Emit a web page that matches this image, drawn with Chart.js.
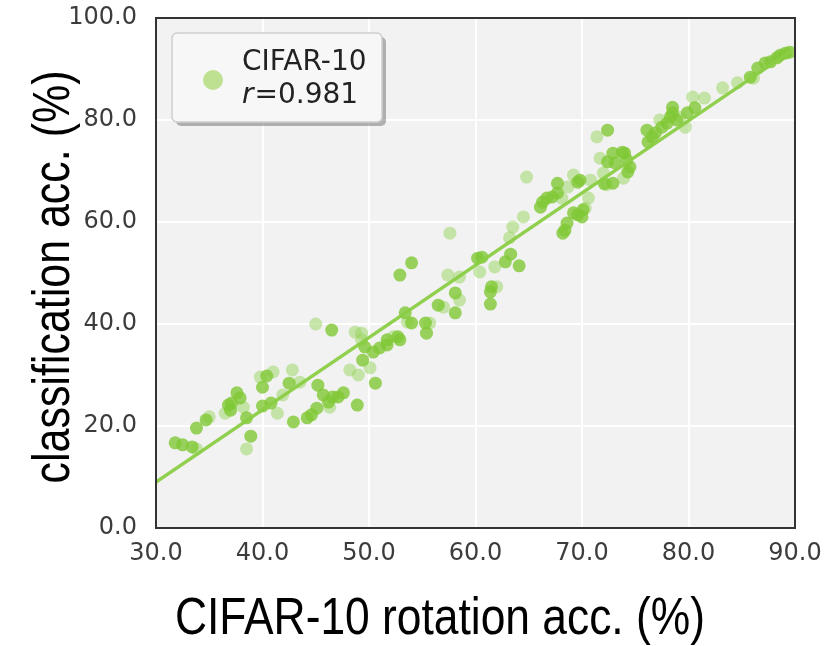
<!DOCTYPE html>
<html>
<head>
<meta charset="utf-8">
<script src="https://cdn.jsdelivr.net/npm/chart.js@4"></script>
<style>
  html, body { margin: 0; padding: 0; background: #fff; }
  #wrap { width: 827px; height: 646px; }
</style>
</head>
<body>
<div id="wrap"><canvas id="rotCls"></canvas></div>
<script>
// rotation acc. (x) vs classification acc. (y)
const darkX = [31.8, 32.5, 33.4, 33.8, 34.7, 36.8, 37.1, 37.0, 37.6, 37.9, 38.5, 38.9, 40.4, 40.0, 40.0, 40.8,
  42.5, 42.9, 44.2, 44.6, 45.1, 45.2, 45.7, 46.2, 46.6, 47.1, 47.6, 48.9, 46.5, 49.4, 49.6, 51.7, 52.7, 50.6,
  52.9, 54.0, 58.1, 58.1, 56.5, 55.4, 55.3, 53.4, 54.0, 52.9, 51.7, 51.0, 50.4,
  60.2, 60.6, 62.8, 63.3, 64.1, 61.4, 61.5, 61.4, 66.1, 66.3, 66.7, 67.2, 67.7, 67.7, 69.6, 69.8,
  68.6, 68.2, 68.4, 69.2, 69.6, 70.0, 72.4, 72.4, 72.1, 72.9, 72.9, 73.1, 73.8, 74.0, 74.2, 74.3, 74.5, 70.1,
  76.1, 76.2, 76.6, 76.9, 77.5, 78.0, 78.3, 78.5, 78.5, 78.9, 79.9, 80.6, 85.8, 86.5, 87.2, 87.7, 88.3, 88.6, 89.1, 89.5];
const darkY = [16.7, 16.3, 15.9, 19.6, 21.2, 24.1, 24.5, 23.1, 26.5, 25.5, 21.6, 18.0, 29.8, 27.6, 23.9, 24.5,
  28.4, 20.8, 21.6, 22.2, 23.5, 28.0, 26.1, 24.7, 25.7, 25.7, 26.5, 24.1, 38.8, 32.9, 35.5, 35.9, 37.5, 28.4,
  49.6, 52.0, 46.1, 42.2, 43.7, 38.2, 40.2, 42.2, 40.2, 36.9, 36.9, 35.3, 34.5,
  52.9, 53.1, 52.2, 53.7, 51.4, 46.3, 47.3, 43.9, 62.9, 63.9, 64.7, 64.9, 65.7, 67.6, 67.8, 68.2,
  59.8, 57.8, 58.4, 61.8, 61.4, 61.0, 71.8, 78.0, 67.5, 67.6, 73.5, 71.6, 73.7, 73.5, 72.2, 69.8, 70.8, 62.4,
  78.0, 75.7, 76.7, 77.5, 78.6, 79.4, 80.6, 82.5, 81.4, 80.0, 81.4, 82.4, 88.4, 90.2, 91.2, 91.4, 92.2, 92.7, 93.1, 93.3];
const lightX = [33.8, 35.0, 36.5, 38.2, 38.5, 39.8, 41.0, 41.4, 41.9, 42.8, 43.5, 46.3, 45.0, 48.2, 48.7, 49.3,
  49.0, 49.3, 50.1, 57.6, 57.4, 58.5, 58.5, 57.0, 55.7, 53.6, 52.3, 60.4, 61.8, 62.0, 63.2, 63.5, 64.5, 64.8,
  68.1, 68.7, 69.2, 70.8, 70.6, 70.3, 71.7, 72.0, 72.3, 71.4, 73.9, 77.3, 79.2, 79.7, 80.4, 81.5, 83.2, 84.6, 86.1];
const lightY = [15.5, 21.8, 22.5, 23.7, 15.5, 29.6, 30.6, 22.5, 26.1, 31.0, 28.6, 23.7, 40.0, 31.0, 38.4, 38.2,
  30.0, 36.9, 31.4, 57.8, 49.6, 49.2, 44.7, 43.3, 40.2, 40.4, 37.5, 50.2, 51.2, 47.3, 56.9, 59.0, 61.0, 68.8,
  64.7, 66.9, 69.2, 68.2, 64.7, 62.7, 72.5, 69.6, 67.3, 76.7, 68.6, 80.0, 80.6, 78.6, 84.5, 84.3, 86.3, 87.3, 88.2];
// least-squares line as drawn in the figure
const fitX = [30.0, 89.7];
const fitY = [9.0, 93.6];
const xTicks = [30, 40, 50, 60, 70, 80, 90];
const yTicks = [0, 20, 40, 60, 80, 100];
const seriesName = 'CIFAR-10';
const rValue = '0.981';
const xTitle = 'CIFAR-10 rotation acc. (%)';
const yTitle = 'classification acc. (%)';

const pts = (xs, ys) => xs.map((x, i) => ({ x: x, y: ys[i] }));

const tickFont = { family: '"DejaVu Sans", sans-serif', size: 24 };

// narrow-ish title text: squeeze a normal sans to the width seen in the figure
function squeezedText(ctx, text, cx, cy, width, angle) {
  ctx.save();
  ctx.font = '52px "Liberation Sans", Arial, sans-serif';
  ctx.fillStyle = '#000';
  ctx.textAlign = 'center';
  ctx.textBaseline = 'middle';
  const w = ctx.measureText(text).width;
  ctx.translate(cx, cy);
  ctx.rotate(angle);
  ctx.scale(width / w, 1);
  ctx.fillText(text, 0, 0);
  ctx.restore();
}

const plotDecor = {
  id: 'plotDecor',
  beforeDraw(chart) {
    const { ctx, chartArea: a } = chart;
    ctx.save();
    ctx.fillStyle = '#f2f2f2';
    ctx.fillRect(a.left, a.top, a.right - a.left, a.bottom - a.top);
    ctx.restore();
  },
  afterDraw(chart) {
    const { ctx, chartArea: a } = chart;
    ctx.save();
    // frame
    ctx.strokeStyle = '#333';
    ctx.lineWidth = 2;
    ctx.strokeRect(a.left, a.top, a.right - a.left, a.bottom - a.top);

    // legend box
    const bx = 172, by = 33, bw = 210, bh = 89;
    ctx.fillStyle = 'rgba(120,120,120,0.55)';
    ctx.beginPath();
    ctx.roundRect(bx + 4, by + 4, bw, bh, 5);
    ctx.fill();
    ctx.fillStyle = '#f7f7f7';
    ctx.strokeStyle = '#cfcfcf';
    ctx.lineWidth = 1.5;
    ctx.beginPath();
    ctx.roundRect(bx, by, bw, bh, 5);
    ctx.fill();
    ctx.stroke();
    ctx.fillStyle = 'rgba(170,218,110,0.75)';
    ctx.beginPath();
    ctx.arc(213, 80, 10, 0, Math.PI * 2);
    ctx.fill();
    ctx.fillStyle = '#222';
    ctx.textBaseline = 'alphabetic';
    ctx.textAlign = 'left';
    ctx.font = '28px "DejaVu Sans", sans-serif';
    ctx.fillText(seriesName, 242, 70);
    ctx.font = 'italic 28px "DejaVu Sans", sans-serif';
    ctx.fillText('r', 242, 103);
    const rw = ctx.measureText('r').width;
    ctx.font = '28px "DejaVu Sans", sans-serif';
    ctx.fillText('=' + rValue, 242 + rw + 1, 103);
    ctx.restore();

    // axis titles
    squeezedText(ctx, xTitle, 440, 620, 530, 0);
    squeezedText(ctx, yTitle, 55, 277, 413, -Math.PI / 2);
  }
};

new Chart(document.getElementById('rotCls'), {
  type: 'scatter',
  data: {
    datasets: [
      {
        label: 'fit',
        type: 'line',
        data: pts(fitX, fitY),
        borderColor: 'rgba(138,205,68,0.95)',
        borderWidth: 3.5,
        pointRadius: 0,
        fill: false,
        order: 0
      },
      {
        label: seriesName,
        data: pts(darkX, darkY),
        backgroundColor: 'rgba(128,200,52,0.8)',
        borderWidth: 0,
        pointRadius: 6.5,
        order: 1
      },
      {
        label: seriesName + ' (faint)',
        data: pts(lightX, lightY),
        backgroundColor: 'rgba(150,212,90,0.5)',
        borderWidth: 0,
        pointRadius: 6.5,
        order: 2
      }
    ]
  },
  options: {
    responsive: true,
    maintainAspectRatio: false,
    animation: false,
    layout: { padding: { left: 0, right: 32, top: 18, bottom: 0 } },
    plugins: {
      legend: { display: false },
      tooltip: { enabled: false }
    },
    scales: {
      x: {
        type: 'linear',
        min: 30,
        max: 90,
        afterBuildTicks: (s) => { s.ticks = xTicks.map((v) => ({ value: v })); },
        afterFit: (s) => { s.height = 118; s.paddingLeft = 0; s.paddingRight = 0; },
        grid: { color: '#ffffff', lineWidth: 2, drawTicks: false },
        border: { display: false },
        ticks: {
          font: tickFont,
          color: '#3c3c3c',
          padding: 11,
          maxRotation: 0,
          callback: (v) => Number(v).toFixed(1)
        }
      },
      y: {
        type: 'linear',
        min: 0,
        max: 100,
        afterBuildTicks: (s) => { s.ticks = yTicks.map((v) => ({ value: v })); },
        afterFit: (s) => { s.width = 156; s.paddingTop = 0; s.paddingBottom = 0; },
        grid: { color: '#ffffff', lineWidth: 2, drawTicks: false },
        border: { display: false },
        ticks: {
          font: tickFont,
          color: '#3c3c3c',
          padding: 19,
          callback: (v) => Number(v).toFixed(1)
        }
      }
    }
  },
  plugins: [plotDecor]
});
</script>
</body>
</html>
